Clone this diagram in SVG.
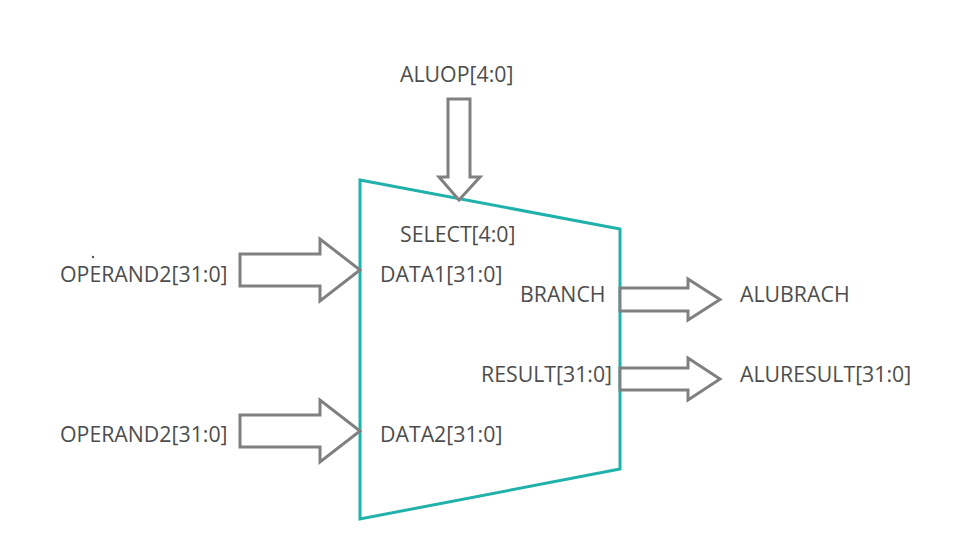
<svg xmlns="http://www.w3.org/2000/svg" width="980" height="560" viewBox="0 0 980 560">
<style>
.t{font-family:"Open Sans","Noto Sans","Liberation Sans",sans-serif;font-size:21.3px;fill:#4d4d4d}
.a{fill:#fff;stroke:#808080;stroke-width:3;stroke-linejoin:miter}
</style>
<rect width="980" height="560" fill="#fff"/>
<g id="alu">
<polygon points="360,180 620,229 620,469 360,519" fill="#fff" stroke="#20b2aa" stroke-width="3"/>
<text class="t" x="400" y="242">SELECT[4:0]</text>
<text class="t" x="380" y="282">DATA1[31:0]</text>
<text class="t" x="380" y="442">DATA2[31:0]</text>
<text class="t" x="520" y="302">BRANCH</text>
<text class="t" x="481" y="382">RESULT[31:0]</text>
</g>
<g id="connectors">
<polygon class="a" points="448,99 470,99 470,177 480,177 459,200 439,177 448,177"/>
<polygon class="a" points="240,254 320,254 320,239 360,270 320,301 320,286 240,286"/>
<polygon class="a" points="240,415 320,415 320,400 360,431 320,462 320,447 240,447"/>
<polygon class="a" points="620,288 688,288 688,279 720,299.5 688,320 688,311 620,311"/>
<polygon class="a" points="620,368 688,368 688,358 720,379 688,400 688,390 620,390"/>
</g>
<g id="aluop"><text class="t" x="400" y="82">ALUOP[4:0]</text></g>
<g id="op1"><text class="t" x="60" y="282">OPERAND2[31:0]</text><circle cx="93" cy="257" r="1.2" fill="#555"/></g>
<g id="op2"><text class="t" x="60" y="442">OPERAND2[31:0]</text></g>
<g id="alubrach"><text class="t" x="740" y="302">ALUBRACH</text></g>
<g id="aluresult"><text class="t" x="740" y="382">ALURESULT[31:0]</text></g>
</svg>
